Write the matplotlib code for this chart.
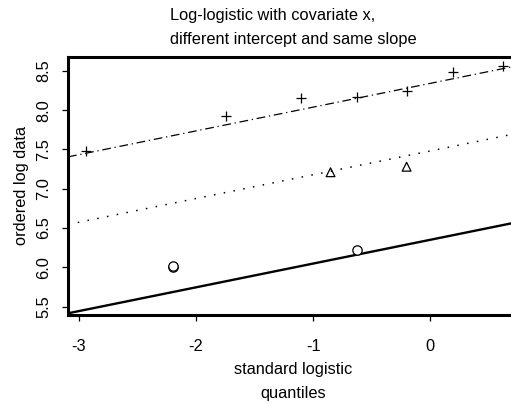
import matplotlib
matplotlib.use("Agg")
import matplotlib.pyplot as plt
import numpy as np

plt.rcParams['font.family'] = ['Liberation Sans', 'DejaVu Sans']

# group 1 (circles, solid line)
x_circ = [-2.20, -2.20, -0.62]
y_circ = [6.00, 6.02, 6.22]
# group 2 (triangles, dotted line)
x_tri = [-0.85, -0.20]
y_tri = [7.21, 7.28]
# group 3 (plus, dash-dot line)
x_plus = [-2.94, -1.74, -1.10, -0.62, -0.20, 0.20, 0.62]
y_plus = [7.48, 7.93, 8.15, 8.17, 8.24, 8.48, 8.56]

slope = 0.302
intercepts = [6.35, 7.48, 8.34]
line_styles = ['-', (0, (1, 5.5)), (0, (7, 3, 1, 3))]
line_widths = [1.7, 1.1, 0.9]

xticks = [-3, -2, -1, 0]
yticks = [5.5, 6.0, 6.5, 7.0, 7.5, 8.0, 8.5]

FS = 11.8

fig = plt.figure(figsize=(5.11, 4.04), dpi=100)
ax = fig.add_axes([68/511, 1-315/404, 450/511, (315-56.7)/404])

ax.set_xlim(-3.094, 0.752)
ax.set_ylim(5.394, 8.68)

for b0, ls, lw in zip(intercepts, line_styles, line_widths):
    ax.axline((0, b0), slope=slope, color='black', linestyle=ls, linewidth=lw)

ax.scatter(x_circ, y_circ, marker='o', s=45, facecolors='white', edgecolors='black', linewidths=0.9, zorder=3)
ax.scatter(x_tri, y_tri, marker='^', s=40, facecolors='none', edgecolors='black', linewidths=0.9, zorder=3)
ax.scatter(x_plus, y_plus, marker='+', s=50, color='black', linewidths=0.9, zorder=3)

for s in ['left', 'bottom', 'top']:
    ax.spines[s].set_linewidth(2.2)
ax.spines['right'].set_visible(False)

ax.set_xticks(xticks)
ax.set_xticklabels([str(v) for v in xticks])
ax.set_yticks(yticks)
ax.set_yticklabels([f"{v:.1f}" for v in yticks], rotation=90, va='center')
ax.tick_params(direction='out', length=4, width=0.9, labelsize=FS, pad=8, color='black')
ax.tick_params(axis='x', pad=13)

ax.set_xlabel("standard logistic\nquantiles", fontsize=FS, linespacing=1.75, labelpad=6)
ax.set_ylabel("ordered log data", fontsize=FS, labelpad=5)
ax.set_title("Log-logistic with covariate x,\ndifferent intercept and same slope",
             fontsize=FS, linespacing=1.75, multialignment='left', pad=9)

fig.savefig("out.png", dpi=100)
